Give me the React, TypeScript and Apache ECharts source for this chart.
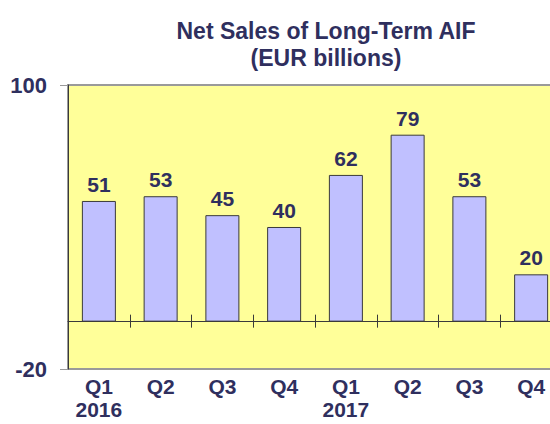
import React, { useEffect, useRef } from "react";
import * as echarts from "echarts";

const categories = ["Q1\n2016", "Q2", "Q3", "Q4", "Q1\n2017", "Q2", "Q3", "Q4"];
const netSales = [51, 53, 45, 40, 62, 79, 53, 20];
const yTickValues = [-20, 100];

const TEXT = "#2F2F5E";
const FONT = "Arial, 'Liberation Sans', Helvetica, sans-serif";

export default function App() {
  const ref = useRef<HTMLDivElement>(null);
  useEffect(() => {
    document.body.style.margin = "0";
    const chart = echarts.init(ref.current!, null, { renderer: "svg" });
    chart.setOption({
      animation: false,
      title: {
        text: "Net Sales of Long-Term AIF\n(EUR billions)",
        left: 321,
        textAlign: "center",
        top: 12,
        textStyle: {
          color: TEXT,
          fontFamily: FONT,
          fontWeight: "bold",
          fontSize: 23,
          lineHeight: 27,
        },
      },
      grid: {
        left: 68,
        top: 85,
        bottom: 55,
        right: -12,
        outerBoundsMode: "none",
        containLabel: false,
        show: true,
        backgroundColor: "#FFFF99",
        borderColor: "#9A9A9A",
        borderWidth: 2,
      },
      xAxis: [
        {
          type: "category",
          data: categories,
          position: "bottom",
          axisLine: { onZero: true, onZeroAxisIndex: 0, lineStyle: { color: "#3A3A3A", width: 1 } },
          axisTick: { show: true, length: 6, lineStyle: { color: "#3A3A3A" } },
          axisLabel: {
            margin: 6,
            color: TEXT,
            fontFamily: FONT,
            fontWeight: "bold",
            fontSize: 21,
            lineHeight: 23,
            interval: 0,
          },
          z: 5,
        },
        {
          type: "category",
          data: categories,
          position: "top",
          axisLine: { show: false, onZero: true, onZeroAxisIndex: 0 },
          axisTick: { show: true, length: 7, lineStyle: { color: "#3A3A3A" } },
          axisLabel: { show: false },
          z: 5,
        },
      ],
      yAxis: {
        type: "value",
        min: -20,
        max: 100,
        splitLine: { show: false },
        axisLine: { show: true, lineStyle: { color: "#3A3A3A", width: 1 } },
        axisTick: { show: true, length: 8, customValues: yTickValues, lineStyle: { color: "#9A9A9A" } },
        axisLabel: {
          customValues: yTickValues,
          margin: 21,
          color: TEXT,
          fontFamily: FONT,
          fontWeight: "bold",
          fontSize: 22,
        },
      },
      series: [
        {
          type: "bar",
          data: netSales,
          xAxisIndex: 0,
          barWidth: 34,
          itemStyle: { color: "#C0C0FF", borderColor: "#3A3A3A", borderWidth: 1 },
          label: {
            show: true,
            position: "top",
            distance: 6,
            color: TEXT,
            fontFamily: FONT,
            fontWeight: "bold",
            fontSize: 21,
          },
        },
      ],
    });
    return () => chart.dispose();
  }, []);
  return <div ref={ref} style={{ width: 550, height: 424 }} />;
}
